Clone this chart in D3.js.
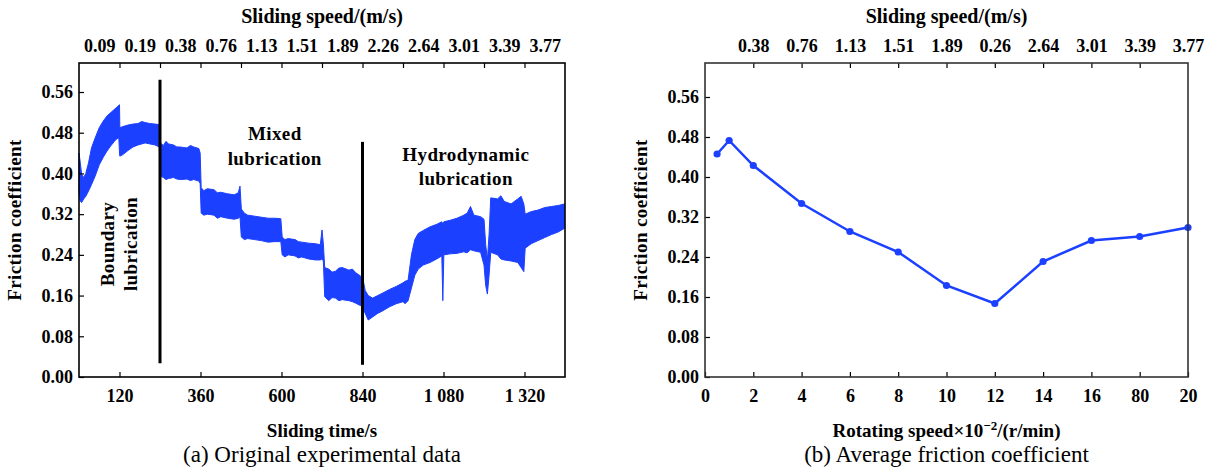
<!DOCTYPE html>
<html><head><meta charset="utf-8">
<script src="https://cdn.jsdelivr.net/npm/d3@7"></script>
<style>body{margin:0;background:#fff}svg{display:block}text{font-family:"Liberation Serif","Times New Roman",serif}</style>
</head><body><svg id="c" width="1216" height="469"></svg>
<script>
const timeS = [0,4,8,14,20,28,37,48,60,72,83,95,105,112,118,120,121,130,145,160,175,186,196,210,225,238,241,250,258,265,280,290,300,320,330,340,355,359,362,370,380,400,410,420,440,460,472,477,481,490,500,520,540,560,580,598,602,610,620,640,650,660,680,700,715,720,724,728,740,750,760,770,780,800,810,820,835,842,848,857,870,885,900,920,940,960,966,975,985,995,1005,1020,1040,1060,1075,1078,1081,1100,1120,1140,1150,1160,1170,1190,1200,1205,1210,1215,1220,1240,1250,1260,1280,1300,1310,1318,1322,1340,1360,1380,1400,1420,1438];
const upperMu = [0.440,0.420,0.398,0.392,0.400,0.420,0.450,0.470,0.490,0.503,0.513,0.520,0.526,0.530,0.534,0.535,0.490,0.492,0.495,0.497,0.498,0.502,0.500,0.498,0.497,0.496,0.460,0.455,0.463,0.458,0.456,0.452,0.452,0.450,0.455,0.452,0.449,0.440,0.372,0.366,0.370,0.368,0.362,0.363,0.360,0.358,0.362,0.375,0.330,0.322,0.318,0.316,0.314,0.312,0.312,0.311,0.275,0.270,0.272,0.270,0.266,0.265,0.263,0.262,0.260,0.289,0.262,0.215,0.212,0.206,0.208,0.214,0.215,0.210,0.212,0.205,0.198,0.190,0.170,0.160,0.155,0.160,0.165,0.172,0.178,0.185,0.188,0.190,0.240,0.270,0.282,0.288,0.295,0.300,0.305,0.300,0.305,0.308,0.312,0.318,0.322,0.335,0.318,0.315,0.310,0.260,0.230,0.280,0.352,0.350,0.356,0.345,0.340,0.350,0.355,0.340,0.320,0.325,0.328,0.333,0.335,0.337,0.340];
const lowerMu = [0.360,0.345,0.343,0.350,0.355,0.365,0.378,0.395,0.417,0.432,0.444,0.455,0.463,0.468,0.470,0.440,0.434,0.437,0.445,0.452,0.456,0.458,0.460,0.458,0.456,0.452,0.395,0.392,0.388,0.390,0.392,0.389,0.388,0.389,0.386,0.388,0.385,0.380,0.322,0.318,0.320,0.318,0.312,0.315,0.312,0.310,0.312,0.315,0.275,0.270,0.272,0.270,0.268,0.265,0.266,0.266,0.240,0.236,0.240,0.238,0.234,0.236,0.232,0.230,0.230,0.232,0.228,0.158,0.150,0.156,0.155,0.150,0.152,0.150,0.148,0.145,0.140,0.135,0.125,0.112,0.118,0.125,0.130,0.138,0.144,0.148,0.144,0.150,0.175,0.200,0.212,0.220,0.225,0.232,0.238,0.150,0.240,0.242,0.243,0.246,0.244,0.250,0.248,0.245,0.220,0.180,0.163,0.200,0.245,0.240,0.232,0.230,0.228,0.225,0.215,0.207,0.253,0.262,0.268,0.274,0.280,0.285,0.292];
const regimeLines = [[240,0.027,0.584],[840,0.024,0.462]];
const timeTicks = [120,360,600,840,1080,1320];
const timeTickLabels = ["120","360","600","840","1 080","1 320"];
const topTicksA = [120,240,360,480,600,720,840,960,1080,1200,1320];
const speedLabelPosA = [60,180,300,420,540,660,780,900,1020,1140,1260,1380];
const speedLabelsA = ["0.09","0.19","0.38","0.76","1.13","1.51","1.89","2.26","2.64","3.01","3.39","3.77"];
const yTicks = [0,0.08,0.16,0.24,0.32,0.40,0.48,0.56];

// ---- Data: (b) average friction coefficient
const rotPos = [0.5,1,2,4,6,8,10,12,14,16,18,20];
const avgMu = [0.446,0.473,0.423,0.347,0.291,0.250,0.183,0.147,0.231,0.273,0.281,0.299];
const rotTicks = [0,2,4,6,8,10,12,14,16,18,20];
const rotTickLabels = ["0","2","4","6","8","10","12","14","16","80","20"];
const topTicksB = [2,4,6,8,10,12,14,16,18];
const speedLabelPosB = [2,4,6,8,10,12,14,16,18,20];
const speedLabelsB = ["0.38","0.76","1.13","1.51","1.89","0.26","2.64","3.01","3.39","3.77"];

const BLUE = "#1c40ff";
const TICK_FS = 18, TITLE_FS = 19;
const svg = d3.select("#c");
const fmt2 = d3.format(".2f");

function frame(g, x, y, xTicks, xLabels, topTicks, topPos, topLabels, caption, box) {
  const [x0,x1] = x.range(), [y1,y0] = y.range();
  g.append("g").attr("transform",`translate(${x0},0)`)
   .call(d3.axisLeft(y).tickValues(yTicks).tickSize(-5).tickPadding(6).tickFormat(fmt2))
   .call(s=>{s.select(".domain").remove();s.selectAll("text").attr("font-size",TICK_FS).attr("font-weight","bold").attr("fill","#000");s.selectAll("line").attr("stroke","#000").attr("stroke-width",1.2);});
  g.append("g").attr("transform",`translate(0,${y1})`)
   .call(d3.axisBottom(x).tickValues(xTicks).tickSize(-5).tickPadding(12).tickFormat((d,i)=>xLabels[i]))
   .call(s=>{s.select(".domain").remove();s.selectAll("text").attr("font-size",TICK_FS).attr("font-weight","bold").attr("fill","#000");s.selectAll("line").attr("stroke","#000").attr("stroke-width",1.2);});
  g.append("g").attr("transform",`translate(0,${y0})`)
   .call(d3.axisTop(x).tickValues(topTicks).tickSize(-5).tickFormat(""))
   .call(s=>{s.select(".domain").remove();s.selectAll("line").attr("stroke","#000").attr("stroke-width",1.2);});
  g.append("g").attr("transform",`translate(0,${y0})`)
   .call(d3.axisTop(x).tickValues(topPos).tickSize(0).tickPadding(11).tickFormat((d,i)=>topLabels[i]))
   .call(s=>{s.select(".domain").remove();s.selectAll("text").attr("font-size",TICK_FS).attr("font-weight","bold").attr("fill","#000");});
  g.append("rect").attr("x",x0).attr("y",y0).attr("width",x1-x0).attr("height",y1-y0)
   .attr("fill","none").attr("stroke",box).attr("stroke-width",1.6);
  const cx=(x0+x1)/2;
  g.append("text").attr("x",cx).attr("y",23).attr("text-anchor","middle").attr("font-size",20).attr("font-weight","bold").text("Sliding speed/(m/s)");
  g.append("text").attr("x",cx).attr("y",462).attr("text-anchor","middle").attr("font-size",23).text(caption);
  g.append("text").attr("transform",`translate(${x0-58},${(y0+y1)/2}) rotate(-90)`).attr("text-anchor","middle").attr("font-size",TITLE_FS).attr("font-weight","bold").attr("letter-spacing","0.4").text("Friction coefficient");
}

// ---- Chart (a)
{
  const g = svg.append("g");
  const x = d3.scaleLinear().domain([0,1440]).range([79,565]);
  const y = d3.scaleLinear().domain([0,0.617]).range([377,63]);
  const area = d3.area().x((d,i)=>x(timeS[i])).y0((d,i)=>y(lowerMu[i])).y1((d,i)=>y(upperMu[i]));
  g.append("path").datum(timeS).attr("d",area).attr("fill",BLUE).attr("stroke",BLUE).attr("stroke-width",1);
  g.selectAll("line.reg").data(regimeLines).join("line").attr("class","reg")
   .attr("x1",d=>x(d[0])).attr("x2",d=>x(d[0])).attr("y1",d=>y(d[1])).attr("y2",d=>y(d[2]))
   .attr("stroke","#000").attr("stroke-width",3);
  frame(g,x,y,timeTicks,timeTickLabels,topTicksA,speedLabelPosA,speedLabelsA,"(a) Original experimental data","#000");
  g.append("text").attr("x",(79+565)/2).attr("y",437).attr("text-anchor","middle").attr("font-size",TITLE_FS).attr("font-weight","bold").text("Sliding time/s");
  const t = (tx,ty,s,rot)=>g.append("text").attr("transform",`translate(${tx},${ty})${rot?" rotate(-90)":""}`).attr("text-anchor","middle").attr("font-size",19).attr("font-weight","bold").attr("letter-spacing","0.4").text(s);
  t(x(580),y(0.48)+7,"Mixed");
  t(x(580),y(0.431)+7,"lubrication");
  t(x(1146),y(0.439)+7,"Hydrodynamic");
  t(x(1146),y(0.391)+7,"lubrication");
  t(x(83)+7,244,"Boundary",true);
  t(x(150)+7,244,"lubrication",true);
}
// ---- Chart (b)
{
  const g = svg.append("g");
  const x = d3.scaleLinear().domain([0,20]).range([705,1188]);
  const y = d3.scaleLinear().domain([0,0.628]).range([377,63]);
  const line = d3.line().x((d,i)=>x(rotPos[i])).y(d=>y(d));
  g.append("path").datum(avgMu).attr("d",line).attr("fill","none").attr("stroke",BLUE).attr("stroke-width",2.5);
  g.selectAll("circle").data(avgMu).join("circle").attr("cx",(d,i)=>x(rotPos[i])).attr("cy",d=>y(d)).attr("r",3.6).attr("fill",BLUE);
  frame(g,x,y,rotTicks,rotTickLabels,topTicksB,speedLabelPosB,speedLabelsB,"(b) Average friction coefficient","#333");
  const xt = g.append("text").attr("x",(705+1188)/2).attr("y",437).attr("text-anchor","middle").attr("font-size",TITLE_FS).attr("font-weight","bold");
  xt.append("tspan").text("Rotating speed×10");
  xt.append("tspan").attr("dy",-7).attr("font-size",13).text("−2");
  xt.append("tspan").attr("dy",7).text("/(r/min)");
}
</script></body></html>
